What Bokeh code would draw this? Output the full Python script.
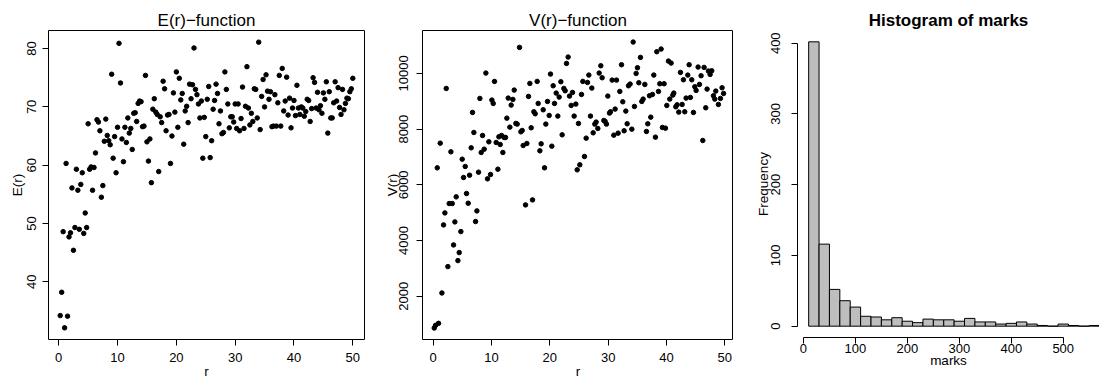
from bokeh.plotting import figure
from bokeh.layouts import row
from bokeh.models import FixedTicker, Range1d
from bokeh.embed import file_html
from bokeh.resources import INLINE

FONT = "Liberation Sans"

# ---------------- data ----------------
r_e = [0.25, 0.5, 0.75, 1.0, 1.25, 1.5, 1.75, 2.0, 2.25, 2.5, 2.75, 3.0, 3.25, 3.5, 3.75, 4.0, 4.25, 4.5, 4.75, 5.0,
       5.25, 5.5, 5.75, 6.0, 6.25, 6.5, 6.75, 7.0, 7.25, 7.5, 7.75, 8.0, 8.25, 8.5, 8.75, 9.0, 9.25, 9.5, 9.75, 10.0,
       10.25, 10.5, 10.75, 11.0, 11.25, 11.5, 11.75, 12.0, 12.25, 12.5, 12.75, 13.0, 13.25, 13.5, 13.75, 14.0, 14.25, 14.5, 14.75, 15.0,
       15.25, 15.5, 15.75, 16.0, 16.25, 16.5, 16.75, 17.0, 17.25, 17.5, 17.75, 18.0, 18.25, 18.5, 18.75, 19.0, 19.25, 19.5, 19.75, 20.0,
       20.25, 20.5, 20.75, 21.0, 21.25, 21.5, 21.75, 22.0, 22.25, 22.5, 22.75, 23.0, 23.25, 23.5, 23.75, 24.0, 24.25, 24.5, 24.75, 25.0,
       25.25, 25.5, 25.75, 26.0, 26.25, 26.5, 26.75, 27.0, 27.25, 27.5, 27.75, 28.0, 28.25, 28.5, 28.75, 29.0, 29.25, 29.5, 29.75, 30.0,
       30.25, 30.5, 30.75, 31.0, 31.25, 31.5, 31.75, 32.0, 32.25, 32.5, 32.75, 33.0, 33.25, 33.5, 33.75, 34.0, 34.25, 34.5, 34.75, 35.0,
       35.25, 35.5, 35.75, 36.0, 36.25, 36.5, 36.75, 37.0, 37.25, 37.5, 37.75, 38.0, 38.25, 38.5, 38.75, 39.0, 39.25, 39.5, 39.75, 40.0,
       40.25, 40.5, 40.75, 41.0, 41.25, 41.5, 41.75, 42.0, 42.25, 42.5, 42.75, 43.0, 43.25, 43.5, 43.75, 44.0, 44.25, 44.5, 44.75, 45.0,
       45.25, 45.5, 45.75, 46.0, 46.25, 46.5, 46.75, 47.0, 47.25, 47.5, 47.75, 48.0, 48.25, 48.5, 48.75, 49.0, 49.25, 49.5, 49.75, 50.0]

e_vals = [34.2, 38.2, 48.6, 32.1, 60.3, 34.1, 47.7, 48.4, 56.1, 45.4,
          49.3, 59.3, 55.7, 49.0, 56.7, 58.7, 48.3, 51.8, 49.3, 67.1,
          59.3, 59.7, 55.7, 59.6, 62.1, 67.8, 67.4, 65.9, 54.5, 56.5,
          64.1, 67.9, 65.1, 64.2, 63.5, 75.6, 61.2, 64.9, 58.7, 66.5,
          80.9, 74.1, 64.5, 60.6, 66.5, 63.9, 68.1, 65.5, 66.3, 62.7,
          68.9, 69.0, 67.5, 70.6, 71.0, 70.9, 66.6, 66.7, 75.4, 64.0,
          60.7, 64.5, 57.0, 69.6, 71.4, 69.1, 68.7, 58.9, 68.3, 67.3,
          74.4, 73.1, 65.9, 68.6, 68.7, 60.3, 65.0, 72.4, 69.1, 76.0,
          66.5, 74.9, 71.2, 72.3, 63.6, 69.3, 70.1, 67.3, 73.9, 71.4,
          73.8, 80.1, 73.0, 72.1, 70.5, 68.1, 71.0, 61.2, 68.2, 64.9,
          71.3, 73.5, 61.3, 64.2, 69.6, 71.1, 73.9, 72.3, 67.1, 69.3,
          65.4, 65.6, 76.0, 73.0, 70.5, 66.4, 68.3, 68.3, 67.4, 70.5,
          66.3, 70.5, 65.9, 68.0, 73.4, 66.3, 70.1, 76.9, 69.8, 66.9,
          68.9, 67.5, 73.1, 73.0, 68.1, 81.1, 66.1, 71.8, 74.7, 70.0,
          75.5, 72.7, 71.3, 72.6, 66.6, 66.7, 72.1, 66.7, 70.7, 75.4,
          66.7, 76.6, 69.3, 71.0, 75.1, 68.6, 71.5, 66.4, 69.8, 71.1,
          68.5, 73.7, 69.8, 68.7, 70.0, 69.8, 68.4, 69.2, 71.3, 71.1,
          67.5, 69.7, 75.0, 74.2, 69.8, 72.5, 69.5, 70.2, 68.9, 72.4,
          71.3, 74.3, 65.5, 72.6, 68.1, 68.1, 70.7, 74.3, 71.0, 73.3,
          69.9, 68.7, 73.0, 69.5, 70.6, 71.5, 71.4, 72.6, 73.1, 74.9]

r_v = [0.17, 0.4, 0.69, 0.91, 1.2, 1.49, 1.77, 2.0, 2.23, 2.51, 2.74, 3.03, 3.26, 3.49, 3.71, 3.94, 4.23, 4.46, 4.74, 4.97,
       5.2, 5.49, 5.71, 6.0, 6.23, 6.51, 6.74, 6.97, 7.26, 7.49, 7.77, 8.0, 8.23, 8.46, 8.74, 9.03, 9.31, 9.54, 9.83, 10.06,
       10.29, 10.51, 10.8, 11.09, 11.26, 11.49, 11.71, 11.94, 12.17, 12.4, 12.63, 12.86, 13.14, 13.37, 13.66, 13.89, 14.17, 14.4, 14.8, 15.03,
       15.26, 15.43, 15.83, 16.06, 16.34, 16.57, 16.8, 17.03, 17.26, 17.49, 17.83, 18.0, 18.29, 18.51, 18.86, 19.09, 19.31,
       19.6, 19.89, 20.11, 20.34, 20.57, 20.8, 21.09, 21.37, 21.6, 21.89, 22.11, 22.4, 22.63, 22.86, 23.14, 23.37, 23.66, 23.89,
       24.17, 24.46, 24.69, 24.91, 25.14, 25.43, 25.66, 25.94, 26.23, 26.46, 26.69, 26.97, 27.2, 27.43, 27.71, 27.94, 28.23, 28.46,
       28.74, 28.97, 29.26, 29.49, 29.71, 29.94, 30.23, 30.4, 30.69, 30.97, 31.2, 31.43, 31.71, 32.0, 32.29, 32.51, 32.74, 33.03,
       33.26, 33.49, 33.77, 34.06, 34.29, 34.51, 34.8, 35.03, 35.26, 35.54, 35.77, 36.0, 36.29, 36.57, 36.8, 37.09, 37.31, 37.6,
       37.83, 38.11, 38.34, 38.63, 38.86, 39.09, 39.31, 39.6, 39.83, 40.06, 40.34, 40.57, 40.8, 41.09, 41.26, 41.6, 41.83, 42.11,
       42.4, 42.69, 42.91, 43.14, 43.37, 43.66, 43.89, 44.11, 44.34, 44.63, 44.86, 45.09, 45.43, 45.66, 45.94, 46.23, 46.46, 46.74,
       46.97, 47.2, 47.49, 47.77, 48.06, 48.29, 48.46, 48.91, 49.26, 49.54, 49.8]

v_vals = [862, 958, 6611, 1030, 7497, 2120, 4563, 4994, 9461, 3066, 5329, 7186, 5329, 3844, 4671, 5569, 3281, 3569, 4323, 6922,
          6264, 6659, 5689, 5341, 6347, 7329, 8599, 7880, 4683, 5066, 6455, 9102, 7162, 7772, 7281, 10012, 6216, 7545, 6371, 9042,
          8922, 9713, 7521, 6563, 7725, 7449, 7772, 7162, 7701, 7701, 8395, 9114, 8072, 8862, 9066, 9401, 8204, 8180, 10934, 7904,
          7952, 7413, 5281, 7485, 9174, 9641, 8048, 5461, 8623, 8551, 9713, 8922, 7222, 7473, 8695, 6611, 8180,
          8994, 8491, 9976, 7389, 9557, 8922, 9293, 8467, 9150, 9701, 7796, 9461, 9377, 10359, 10587, 9186, 8850, 9317,
          8467, 8898, 6539, 8204, 6719, 9245, 9713, 7018, 7677, 9677, 9940, 8467, 9473, 7868, 8180, 8252, 8024, 10012,
          10275, 9844, 8311, 8275, 8180, 9186, 8575, 8623, 9760, 7784, 8719, 9760, 7856, 9353, 10311, 8982, 7940, 8647,
          8192, 9557, 9617, 8000, 11126, 8814, 10000, 10204, 9665, 10575, 8994, 9078, 9605, 7916, 8192, 9198, 8431, 9245,
          9940, 7713, 10778, 9353, 9629, 10874, 8060, 9629, 8036, 8850, 10443, 9078, 10371, 9222, 9293, 8802, 8874, 8611,
          10036, 8886, 9772, 8623, 9114, 9940, 10311, 9138, 9772, 8599, 9521, 9389, 10228, 9605, 9916, 7593, 10216, 8766,
          9437, 10084, 9964, 10096, 9198, 9078, 9365, 8886, 9102, 9485, 9281]

breaks = [10, 30, 50, 70, 90, 110, 130, 150, 170, 190, 210, 230, 250, 270, 290, 310, 330, 350, 370, 390,
          410, 430, 450, 470, 490, 510, 530, 550, 570, 590]
counts = [402, 116, 52, 36, 27, 14, 13, 9, 12, 7, 5, 10, 9, 9, 7, 11, 6, 6, 3, 4,
          6, 3, 1, 0, 3, 1, 0, 1, 1]

x_ticks_r = [0, 10, 20, 30, 40, 50]
e_ticks = [40, 50, 60, 70, 80]
v_ticks = [2000, 4000, 6000, 8000, 10000]
h_xticks = [0, 100, 200, 300, 400, 500]
h_yticks = [0, 100, 200, 300, 400]


def style_axes(p):
    p.grid.visible = False
    for ax in (p.xaxis[0], p.yaxis[0]):
        ax.axis_line_color = "black"
        ax.axis_line_width = 1
        ax.major_tick_line_color = "black"
        ax.major_tick_out = 6
        ax.major_tick_in = 0
        ax.minor_tick_out = 0
        ax.minor_tick_in = 0
        ax.major_label_text_font = FONT
        ax.major_label_text_font_size = "13px"
        ax.major_label_text_color = "black"
        ax.axis_label_text_font = FONT
        ax.axis_label_text_font_size = "13.5px"
        ax.axis_label_text_font_style = "normal"
        ax.axis_label_text_color = "black"
    p.yaxis[0].major_label_orientation = "vertical"
    p.title.text_font = FONT
    p.title.text_font_size = "17px"
    p.title.align = "center"
    p.title.text_color = "black"


# ---------------- panel 1: E(r) ----------------
p1 = figure(width=366, height=378, frame_width=316, frame_height=309,
            min_border_left=48, min_border_right=2, min_border_top=29, min_border_bottom=40,
            x_range=Range1d(-1.74, 51.99), y_range=Range1d(30.1, 83.1),
            title="E(r)\u2212function", output_backend="svg", toolbar_location=None)
p1.scatter(r_e, e_vals, size=4.5, color="black")
style_axes(p1)
p1.title.text_font_style = "normal"
p1.title.standoff = 2
p1.outline_line_color = "black"
p1.outline_line_width = 1
p1.outline_line_alpha = 1
p1.xaxis.ticker = FixedTicker(ticks=x_ticks_r)
p1.yaxis.ticker = FixedTicker(ticks=e_ticks)
p1.xaxis.bounds = (0, 50)
p1.yaxis.bounds = (40, 80)
p1.xaxis.axis_label = "r"
p1.yaxis.axis_label = "E(r)"
p1.xaxis.major_label_standoff = 7
p1.xaxis.axis_label_standoff = -1
p1.yaxis.major_label_standoff = 6
p1.yaxis.axis_label_standoff = 0

# ---------------- panel 2: V(r) ----------------
p2 = figure(width=367, height=378, frame_width=311, frame_height=309,
            min_border_left=56, min_border_right=0, min_border_top=29, min_border_bottom=40,
            x_range=Range1d(-1.84, 51.5), y_range=Range1d(450, 11540),
            title="V(r)\u2212function", output_backend="svg", toolbar_location=None)
p2.scatter(r_v, v_vals, size=4.5, color="black")
style_axes(p2)
p2.title.text_font_style = "normal"
p2.title.standoff = 2
p2.outline_line_color = "black"
p2.outline_line_width = 1
p2.outline_line_alpha = 1
p2.xaxis.ticker = FixedTicker(ticks=x_ticks_r)
p2.yaxis.ticker = FixedTicker(ticks=v_ticks)
p2.xaxis.bounds = (0, 50)
p2.yaxis.bounds = (2000, 10000)
p2.xaxis.axis_label = "r"
p2.yaxis.axis_label = "V(r)"
p2.xaxis.major_label_standoff = 7
p2.xaxis.axis_label_standoff = -1
p2.yaxis.major_label_standoff = 8
p2.yaxis.axis_label_standoff = -3

# ---------------- panel 3: histogram ----------------
p3 = figure(width=366, height=378, frame_width=302, frame_height=307,
            min_border_left=64, min_border_right=0, min_border_top=30, min_border_bottom=41,
            x_range=Range1d(-11.5, 569.8), y_range=Range1d(-16, 418),
            title="Histogram of marks", output_backend="svg", toolbar_location=None)
p3.quad(left=breaks[:-1], right=breaks[1:], bottom=0, top=counts,
        fill_color="#bebebe", line_color="black", line_width=1)
style_axes(p3)
p3.title.text_font_style = "bold"
p3.title.standoff = 2
p3.title.offset = 6
p3.outline_line_color = None
p3.xaxis.ticker = FixedTicker(ticks=h_xticks)
p3.yaxis.ticker = FixedTicker(ticks=h_yticks)
p3.xaxis.bounds = (0, 500)
p3.yaxis.bounds = (0, 400)
p3.xaxis.axis_label = "marks"
p3.yaxis.axis_label = "Frequency"
p3.xaxis.major_label_standoff = 0
p3.xaxis.axis_label_standoff = -3
p3.yaxis.major_label_standoff = 11
p3.yaxis.axis_label_standoff = -2

layout = row(p1, p2, p3, spacing=0)
layout.margin = 0

open("out.html", "w").write(file_html(layout, INLINE))
